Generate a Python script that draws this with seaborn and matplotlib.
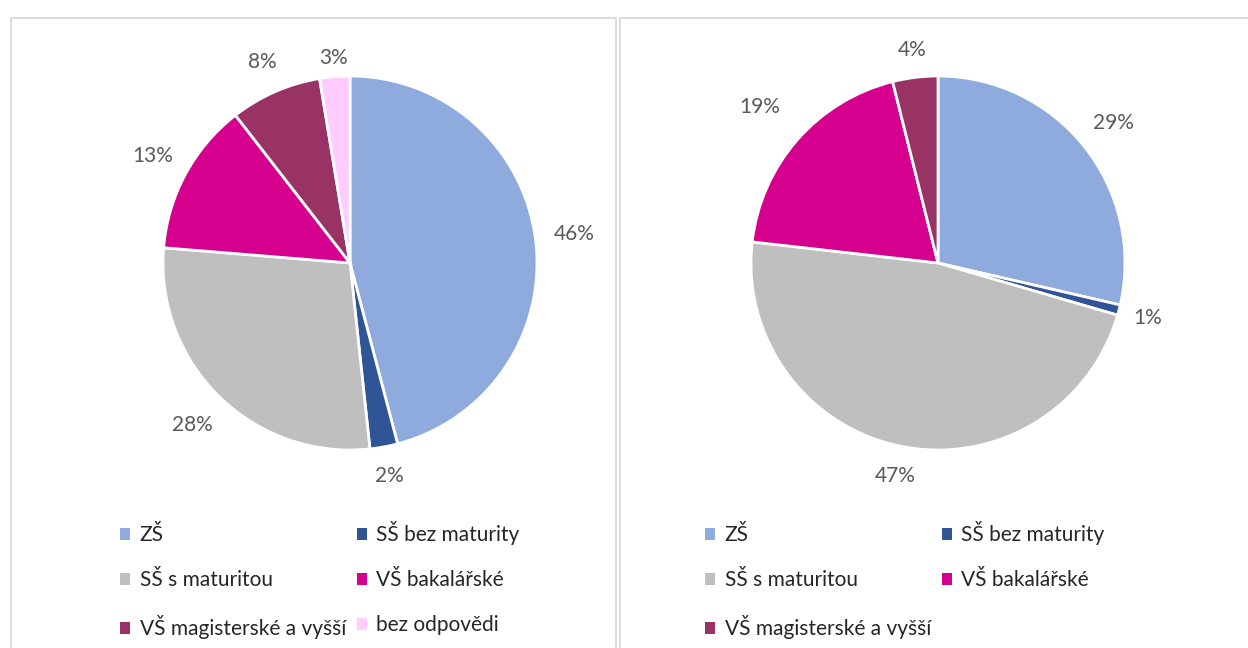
import seaborn as sns
import matplotlib.pyplot as plt
import numpy as np
from matplotlib.patches import Rectangle, Patch

# data
cats_left = ["ZŠ", "SŠ bez maturity", "SŠ s maturitou", "VŠ bakalářské",
             "VŠ magisterské a vyšší", "bez odpovědi"]
vals_left = [45.9, 2.4, 28.0, 13.2, 7.9, 2.6]
cats_right = ["ZŠ", "SŠ bez maturity", "SŠ s maturitou", "VŠ bakalářské",
              "VŠ magisterské a vyšší"]
vals_right = [28.6, 0.9, 47.3, 19.3, 3.9]
colors = ["#8faadc", "#2f5597", "#bfbfbf", "#d6008f", "#993366", "#ffccff"]

sns.set_theme(style="white")
plt.rcParams['font.family'] = ['Lato', 'DejaVu Sans']

W, H = 1248, 648
fig = plt.figure(figsize=(W / 100, H / 100), dpi=100)

# panel borders
for x0, x1 in [(11, 616), (620, 1260)]:
    fig.patches.append(Rectangle((x0 / W, -0.05), (x1 - x0) / W, (H - 18) / H + 0.05,
                                 transform=fig.transFigure, fill=False,
                                 edgecolor="#d9d9d9", linewidth=1.3))

R = 187
lim = 1.25


def draw_pie(cx, cy, cats, vals, dists, legend_x, legend_y):
    size = 2 * lim * R
    ax = fig.add_axes([(cx - size / 2) / W, (H - cy - size / 2) / H, size / W, size / H])
    wedges, _, autotexts = ax.pie(vals, colors=colors[:len(vals)], startangle=90,
                                  counterclock=False, autopct="%.0f%%",
                                  pctdistance=1.2,
                                  wedgeprops=dict(edgecolor="white", linewidth=2),
                                  textprops=dict(color="#595959", fontsize=15))
    # label distance per slice (like Excel best fit)
    for w, t, d in zip(wedges, autotexts, dists):
        a = np.deg2rad((w.theta1 + w.theta2) / 2)
        t.set_position((d * np.cos(a), d * np.sin(a)))
    ax.set_xlim(-lim, lim)
    ax.set_ylim(-lim, lim)
    ax.set_aspect("equal")
    ax.axis("off")
    # legend: row-wise order (two columns)
    order = list(range(0, len(cats), 2)) + list(range(1, len(cats), 2))
    handles = [Patch(facecolor=colors[i], edgecolor="none") for i in order]
    labels = [cats[i] for i in order]
    fig.legend(handles, labels, ncol=2, loc="upper left",
               bbox_to_anchor=(legend_x / W, 1 - legend_y / H),
               frameon=False, fontsize=15, labelcolor="#262626",
               handlelength=0.5, handleheight=0.5, handletextpad=0.45,
               labelspacing=1.2, columnspacing=0.5, borderaxespad=0,
               borderpad=0)


draw_pie(350, 263, cats_left, vals_left, [1.21, 1.16, 1.21, 1.2, 1.17, 1.1], 120, 521)
draw_pie(938, 263, cats_right, vals_right, [1.2, 1.16, 1.16, 1.27, 1.15], 705, 521)

fig.savefig("out.png", dpi=100)
